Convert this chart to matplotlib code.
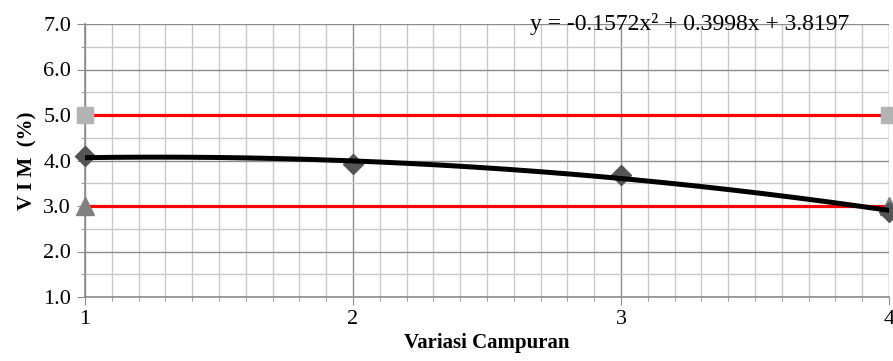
import numpy as np
import matplotlib.pyplot as plt
from matplotlib.ticker import MultipleLocator

# data
campuran = [1, 2, 3, 4]
vim = [4.10, 3.92, 3.68, 2.87]
batas_x = [1, 4]
batas_atas = [5.0, 5.0]
batas_bawah = [3.0, 3.0]
koef = [-0.1572, 0.3998, 3.8197]   # trendline poly2

plt.rcParams['font.family'] = ['Liberation Serif', 'DejaVu Serif']

fig = plt.figure(figsize=(8.93, 3.61), dpi=100)
ax = fig.add_axes([85/893, 64/361, 804/893, 273/361])

xs = np.linspace(1, 4, 200)
ax.plot(batas_x, batas_atas, '-', color='#ff0000', lw=2.3, zorder=3)
ax.plot(batas_x, batas_bawah, '-', color='#ff0000', lw=2.3, zorder=3)
ax.plot(batas_x, batas_atas, 's', color='#b3b3b3', ms=12, clip_on=False, zorder=4)
ax.plot(batas_x, batas_bawah, '^', color='#808080', ms=13, clip_on=False, zorder=4)
ax.plot(campuran, vim, 'D', color='#555555', ms=10.5, clip_on=False, zorder=5)
ax.plot(xs, np.polyval(koef, xs), '-', color='black', lw=3.6, zorder=6)

ax.set_xlim(1, 4)
ax.set_ylim(1, 7)
ax.xaxis.set_minor_locator(MultipleLocator(0.1))
ax.yaxis.set_minor_locator(MultipleLocator(0.5))
ax.set_xticks([1, 2, 3, 4])
ax.set_xticklabels(['1', '2', '3', '4'])
ax.set_yticks([1, 2, 3, 4, 5, 6, 7])
ax.set_yticklabels(['%.1f' % v for v in range(1, 8)])

ax.grid(which='major', color='#8c8c8c', lw=1.0)
ax.grid(which='minor', color='#c8c8c8', lw=1.0)
ax.set_axisbelow(True)
for s in ['top', 'right']:
    ax.spines[s].set_visible(False)
for s in ['left', 'bottom']:
    ax.spines[s].set_color('#8c8c8c')
    ax.spines[s].set_linewidth(1.2)
ax.tick_params(which='major', length=6, color='#8c8c8c', labelsize=16, pad=4)
ax.tick_params(which='minor', length=3, color='#8c8c8c')
ax.tick_params(axis='x', pad=3)

ax.set_xlabel('Variasi Campuran', fontsize=15, fontweight='bold', labelpad=3)
ax.set_ylabel('V I M  (%)', fontsize=15, fontweight='bold', labelpad=4)

ax.text(0.752, 1.0, 'y = -0.1572x\u00b2 + 0.3998x + 3.8197', transform=ax.transAxes,
        ha='center', va='center', fontsize=17, zorder=7)

fig.savefig('out.png', dpi=100)
